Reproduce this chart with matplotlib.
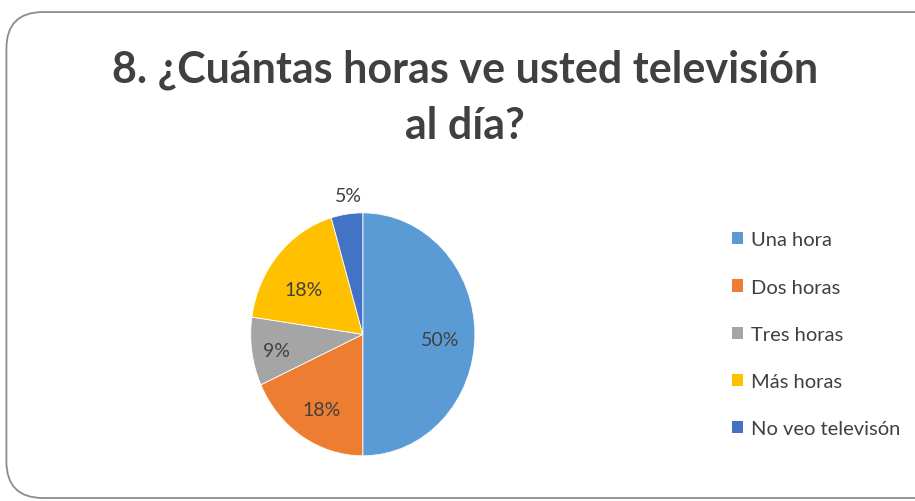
import matplotlib.pyplot as plt
from matplotlib.patches import FancyBboxPatch, Patch

categorias = ["Una hora", "Dos horas", "Tres horas", "Más horas", "No veo televisón"]
respuestas = [11, 4, 2, 4, 1]
colores = ["#5B9BD5", "#ED7D31", "#A5A5A5", "#FFC000", "#4472C4"]
titulo = "8. ¿Cuántas horas ve usted televisión\nal día?"

plt.rcParams['font.family'] = ['Lato', 'DejaVu Sans']

fig = plt.figure(figsize=(9.15, 5.02), dpi=100)

# marco redondeado del gráfico
marco = FancyBboxPatch((0.007, 0.006), 1.2, 0.968, boxstyle="round,pad=0,rounding_size=0.04",
                       transform=fig.transFigure, facecolor="white", edgecolor="#8c8c8c",
                       linewidth=1.3, mutation_aspect=915 / 502, zorder=-1)
fig.patches.append(marco)

fig.text(0.508, 0.805, titulo, ha="center", va="center", fontsize=31, fontweight="bold",
         color="#404040", linespacing=1.5)

ax = fig.add_axes([0.274, 0.09, 0.245, 0.484])
wedges, textos, autotextos = ax.pie(respuestas, colors=colores, startangle=90, counterclock=False,
                                    autopct='%.0f%%', pctdistance=0.62,
                                    wedgeprops=dict(edgecolor="white", linewidth=0.6),
                                    textprops=dict(fontsize=14, color="#404040"))
ax.set_aspect('auto')
ax.set_xlim(-1, 1)
ax.set_ylim(-1, 1)
# la etiqueta del 5% va fuera de la porción
autotextos[4].set_position((-0.13, 1.14))
autotextos[1].set_position((-0.37, -0.62))
autotextos[3].set_position((-0.53, 0.37))
autotextos[2].set_position((-0.77, -0.13))
autotextos[0].set_position((0.69, -0.04))

manejadores = [Patch(facecolor=c, edgecolor="none") for c in colores]
fig.legend(manejadores, categorias, loc="center left", bbox_to_anchor=(0.78, 0.332),
           frameon=False, fontsize=14.5, labelcolor="#404040", handlelength=0.55,
           handleheight=0.55, handletextpad=0.4, labelspacing=1.5)

fig.savefig("out.png", dpi=100)
